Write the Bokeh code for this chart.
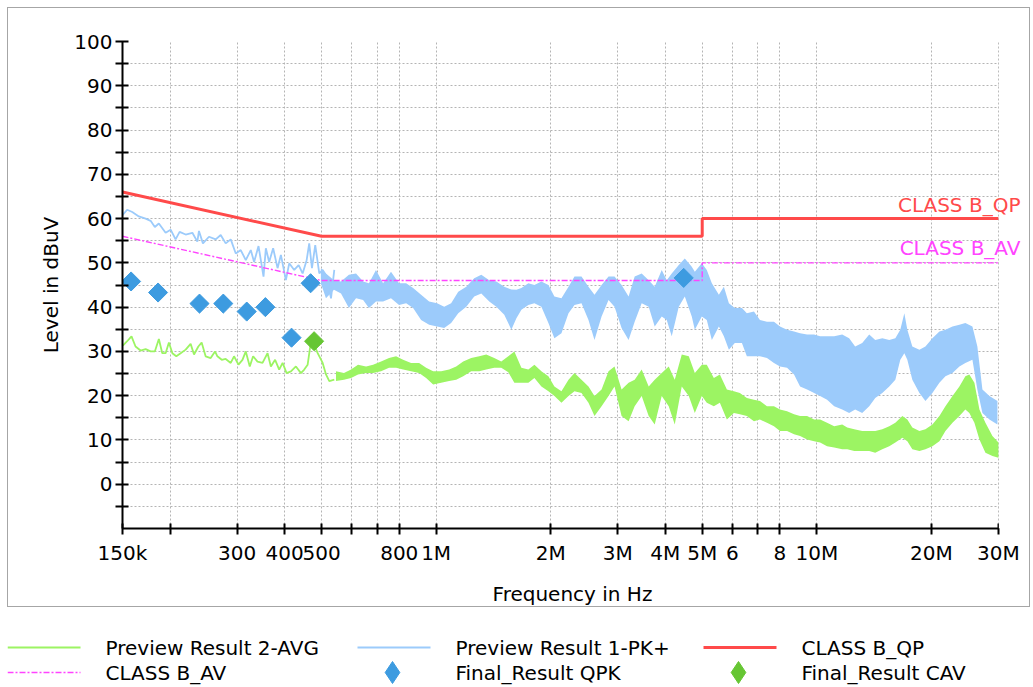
from bokeh.plotting import figure
from bokeh.models import Range1d, FixedTicker, Label, BoxAnnotation
from bokeh.embed import file_html
from bokeh.resources import INLINE
from bokeh.core.properties import value

# ---------------- data (frequency in MHz, level in dBuV) ----------------
x_ticks = [0.15, 0.2, 0.3, 0.4, 0.5, 0.6, 0.7, 0.8, 1, 2, 3, 4, 5, 6, 7, 8, 10, 20, 30]
x_tick_labels = ["150k", "", "300", "400", "500", "", "", "800", "1M", "2M", "3M", "4M",
                 "5M", "6", "", "8", "10M", "20M", "30M"]
y_ticks = [-5, 0, 5, 10, 15, 20, 25, 30, 35, 40, 45, 50, 55, 60, 65, 70, 75, 80, 85, 90, 95, 100]
y_tick_labels = ["", "0", "", "10", "", "20", "", "30", "", "40", "", "50", "", "60", "",
                 "70", "", "80", "", "90", "", "100"]

# Preview Result 1-PK+ : low-frequency trace
pk_line_f = [0.150, 0.1543, 0.1591, 0.1656, 0.1725, 0.1778, 0.1824, 0.1869, 0.1947, 0.2007,
             0.2068, 0.2119, 0.2198, 0.2289, 0.2359, 0.2382, 0.2440, 0.2531, 0.2636, 0.2717,
             0.2800, 0.2887, 0.2976, 0.3067, 0.3162, 0.3259, 0.3325, 0.3415, 0.3520, 0.3570,
             0.3642, 0.3731, 0.3832, 0.3910, 0.4030, 0.4112, 0.4238, 0.4353, 0.4459, 0.4569,
             0.4641, 0.4718, 0.4813, 0.4932, 0.5034, 0.5158, 0.5294, 0.5401]
pk_line_db = [60.8, 62.0, 61.5, 60.5, 60.0, 59.5, 58.1, 58.9, 56.8, 57.5,
              55.3, 57.0, 56.4, 56.8, 54.8, 57.2, 54.4, 55.9, 55.3, 56.3,
              54.4, 55.3, 52.1, 52.9, 50.6, 52.9, 50.2, 53.8, 46.9, 53.3,
              50.2, 53.3, 48.8, 51.8, 46.1, 49.9, 48.4, 49.5, 47.6, 50.6,
              54.4, 48.8, 54.0, 47.6, 48.4, 46.9, 42.0, 48.4]

# Preview Result 1-PK+ : dense part (upper / lower envelope)
pk_band_f = [0.498, 0.5135, 0.539, 0.5625, 0.590, 0.616, 0.643, 0.666, 0.695, 0.7255,
             0.761, 0.799, 0.834, 0.870, 0.913, 0.9585, 1.006, 1.050, 1.095, 1.143,
             1.200, 1.259, 1.314, 1.379, 1.439, 1.510, 1.576, 1.625, 1.675, 1.747,
             1.812, 1.890, 1.972, 2.045, 2.134, 2.227, 2.309, 2.409, 2.513, 2.606,
             2.720, 2.837, 2.942, 3.070, 3.203, 3.323, 3.467, 3.617, 3.751, 3.914,
             4.034, 4.158, 4.339, 4.500, 4.694, 4.781, 4.988, 5.14, 5.30, 5.53,
             5.70, 5.875, 6.09, 6.357, 6.55, 6.837, 7.09, 7.397, 7.717, 8.003,
             8.352, 8.714, 9.037, 9.429, 9.838, 10.20, 10.64, 11.11, 11.66, 12.16,
             12.61, 13.16, 13.73, 14.24, 14.86, 15.50, 16.08, 16.57, 16.98, 17.29,
             17.82, 18.60, 19.29, 20.12, 20.99, 21.77, 22.72, 23.69, 24.56, 25.63,
             26.41, 27.23, 28.41, 29.82]
pk_band_hi = [48.8, 47.6, 46.1, 45.8, 47.3, 47.6, 45.8, 45.4, 48.4, 45.4,
              48.0, 45.4, 45.4, 44.3, 42.8, 41.3, 40.9, 40.1, 40.9, 43.5,
              44.6, 46.5, 47.3, 46.1, 45.8, 44.6, 44.0, 43.9, 44.3, 45.4,
              45.0, 45.8, 45.0, 42.4, 42.0, 44.6, 46.9, 46.9, 44.6, 42.8,
              45.0, 46.9, 46.9, 45.0, 42.4, 46.9, 47.6, 46.1, 44.6, 48.4,
              46.1, 47.6, 49.5, 51.0, 49.1, 48.0, 49.9, 48.4, 45.4, 42.8,
              44.6, 40.9, 39.8, 39.8, 38.6, 39.0, 37.1, 36.7, 36.7, 35.6,
              34.9, 34.5, 34.1, 33.8, 33.8, 33.4, 33.4, 33.4, 33.8, 33.0,
              31.1, 31.9, 33.8, 32.6, 33.0, 32.6, 33.0, 34.9, 38.6, 34.9,
              31.1, 30.4, 31.1, 33.0, 34.5, 34.9, 35.6, 36.0, 36.4, 35.6,
              31.1, 21.4, 19.9, 18.8]
pk_band_lo = [45.4, 42.0, 43.9, 43.1, 39.8, 42.0, 41.6, 39.8, 41.3, 41.3,
              42.0, 40.5, 40.9, 39.8, 37.1, 36.0, 35.6, 35.3, 36.4, 38.6,
              40.1, 42.4, 43.1, 41.3, 40.1, 38.3, 34.9, 37.5, 39.4, 40.5,
              40.9, 40.1, 36.4, 33.0, 34.1, 38.6, 40.5, 40.9, 37.1, 32.6,
              37.9, 41.6, 40.1, 35.3, 32.6, 36.7, 40.9, 40.1, 35.6, 37.9,
              37.1, 33.4, 40.1, 42.4, 37.9, 34.9, 37.9, 37.1, 32.6, 35.6,
              33.4, 30.4, 31.9, 31.9, 28.9, 28.9, 28.9, 28.5, 27.4, 26.6,
              26.3, 24.8, 22.1, 21.4, 20.6, 19.9, 19.1, 17.6, 16.9, 16.1,
              16.9, 16.1, 17.6, 19.5, 20.6, 22.1, 23.6, 28.1, 29.6, 28.1,
              23.6, 20.6, 18.8, 20.6, 22.9, 24.4, 25.1, 26.6, 27.4, 28.1,
              21.4, 16.1, 14.6, 13.5]

# Preview Result 2-AVG : low-frequency trace
avg_line_f = [0.1503, 0.1543, 0.1584, 0.1623, 0.1673, 0.1725, 0.1778, 0.1824, 0.1869, 0.1908,
              0.1947, 0.1986, 0.2028, 0.2077, 0.2132, 0.2198, 0.2265, 0.2312, 0.2373, 0.2421,
              0.2480, 0.2557, 0.2625, 0.2663, 0.2734, 0.2800, 0.2887, 0.2945, 0.3025, 0.3099,
              0.3162, 0.3239, 0.3305, 0.3394, 0.3499, 0.3607, 0.3680, 0.3776, 0.3870, 0.3951,
              0.4047, 0.4155, 0.4282, 0.4414, 0.4503, 0.4597, 0.4669, 0.4784, 0.4884, 0.5034,
              0.5136, 0.5240, 0.5401]
avg_line_db = [31.3, 32.3, 33.4, 31.1, 30.2, 30.5, 30.0, 30.0, 32.8, 29.6,
               29.6, 32.0, 29.6, 28.9, 29.6, 30.4, 31.7, 29.3, 31.1, 32.0,
               28.9, 28.5, 30.0, 28.9, 28.1, 28.3, 27.4, 28.9, 27.0, 28.1,
               30.0, 26.6, 28.9, 27.7, 27.4, 29.6, 26.6, 28.1, 25.9, 27.4,
               25.1, 25.5, 26.6, 25.1, 25.9, 27.0, 31.1, 31.5, 29.6, 27.4,
               24.8, 23.3, 23.6]

# Preview Result 2-AVG : dense part (upper / lower envelope)
avg_band_f = [0.5456, 0.5727, 0.5976, 0.6234, 0.6544, 0.6828, 0.7167, 0.7521, 0.7847, 0.8187,
              0.8594, 0.9021, 0.9412, 0.9820, 1.0308, 1.0820, 1.1289, 1.1778, 1.2364, 1.2978,
              1.3541, 1.4213, 1.4829, 1.5473, 1.605, 1.6746, 1.747, 1.812, 1.890, 1.972,
              2.045, 2.134, 2.227, 2.309, 2.409, 2.513, 2.606, 2.720, 2.837, 2.942,
              3.070, 3.203, 3.323, 3.467, 3.617, 3.751, 3.914, 4.083, 4.235, 4.418,
              4.610, 4.781, 4.988, 5.14, 5.364, 5.563, 5.804, 6.056, 6.28, 6.55,
              6.837, 7.09, 7.397, 7.717, 8.003, 8.352, 8.714, 9.037, 9.429, 9.838,
              10.20, 10.64, 11.11, 11.66, 12.02, 12.54, 13.16, 13.73, 14.24, 14.86,
              15.50, 16.08, 16.78, 17.29, 17.82, 18.60, 19.29, 20.12, 20.99, 21.77,
              22.72, 23.69, 24.56, 25.16, 25.94, 26.74, 27.73, 28.93, 30.0]
avg_band_hi = [25.5, 25.1, 25.9, 27.0, 26.6, 27.0, 27.7, 28.5, 28.9, 28.1,
               27.4, 27.4, 26.3, 25.5, 25.5, 25.9, 26.6, 27.7, 28.5, 28.9,
               29.3, 28.5, 27.7, 28.9, 30.0, 26.3, 25.9, 27.0, 25.5, 24.4,
               22.1, 21.0, 23.6, 25.1, 23.6, 22.1, 19.9, 21.4, 25.5, 26.6,
               21.4, 22.9, 23.6, 25.9, 22.1, 23.6, 25.1, 26.6, 23.6, 29.3,
               28.9, 25.1, 27.0, 27.0, 24.0, 24.8, 21.4, 21.0, 20.6, 19.5,
               19.1, 18.8, 17.6, 17.6, 16.9, 16.5, 15.8, 15.4, 15.4, 14.6,
               14.6, 13.9, 13.1, 13.5, 12.8, 12.4, 12.0, 12.0, 12.0, 12.4,
               13.1, 13.9, 15.4, 14.6, 12.8, 12.0, 12.4, 13.5, 15.4, 17.6,
               19.9, 22.1, 24.4, 24.8, 22.9, 16.9, 13.9, 10.9, 9.4]
avg_band_lo = [23.3, 23.6, 24.0, 24.8, 25.1, 25.1, 25.5, 26.3, 26.3, 25.9,
               25.5, 25.1, 24.0, 22.5, 22.9, 23.3, 23.6, 24.4, 25.5, 25.5,
               25.9, 26.3, 26.3, 25.3, 22.9, 22.9, 22.9, 24.0, 22.1, 21.0,
               19.9, 18.4, 19.9, 21.0, 20.6, 18.4, 15.4, 17.6, 19.9, 22.1,
               15.4, 14.2, 17.6, 19.9, 15.4, 13.5, 19.9, 17.6, 13.5, 22.1,
               19.9, 16.1, 19.9, 18.4, 17.6, 18.4, 14.6, 16.1, 15.8, 15.4,
               14.2, 14.6, 13.9, 13.1, 12.0, 12.0, 11.3, 10.9, 10.1, 9.7,
               9.4, 8.6, 8.3, 7.9, 7.9, 7.5, 7.5, 7.5, 7.1, 7.9,
               8.6, 9.4, 10.5, 9.7, 7.9, 7.5, 7.9, 8.6, 9.7, 12.0,
               13.9, 15.4, 16.9, 16.1, 13.9, 10.1, 7.1, 6.4, 6.0]

# Limit lines
qp_f = [0.15, 0.5, 5, 5, 30]
qp_db = [66, 56, 56, 60, 60]
av_f = [0.15, 0.5, 5, 5, 30]
av_db = [56, 46, 46, 50, 50]

# Final results
qpk_f = [0.158, 0.186, 0.239, 0.276, 0.318, 0.356, 0.417, 0.468, 4.47]
qpk_db = [45.8, 43.3, 40.8, 40.8, 39.0, 40.0, 33.1, 45.4, 46.6]
cav_f = [0.478]
cav_db = [32.3]

# ---------------- style ----------------
FONT = "DejaVu Sans"
C_PK = "#9ccbfb"
C_AVG = "#9cf463"
C_QP = "#ff4a4a"
C_AV = "#ff44ff"
C_QPK = "#3d9be0"
C_CAV = "#66c633"

# x range runs a little past 30 MHz so the limit-line labels fit; axis stops at 30 MHz
p = figure(width=1023, height=600, x_axis_type="log",
           x_range=Range1d(0.15, 34.7), y_range=Range1d(-10, 100),
           output_backend="svg", toolbar_location=None,
           min_border_left=114, min_border_right=9, min_border_top=33, min_border_bottom=75,
           margin=(7, 0, 0, 7))
p.outline_line_color = None
p.background_fill_color = "white"
p.border_fill_color = "white"
p.styles = {"border": "1px solid #a6a6a6"}

# axes
p.xaxis.ticker = FixedTicker(ticks=x_ticks)
p.xaxis.major_label_overrides = {t: s for t, s in zip(x_ticks, x_tick_labels)}
p.xaxis.bounds = (x_ticks[0], x_ticks[-1])
p.yaxis.ticker = FixedTicker(ticks=y_ticks)
p.yaxis.major_label_overrides = {t: s for t, s in zip(y_ticks, y_tick_labels)}
for ax in (p.xaxis, p.yaxis):
    ax.axis_line_color = "black"
    ax.axis_line_width = 2
    ax.major_tick_line_color = "black"
    ax.major_tick_line_width = 2
    ax.minor_tick_line_color = None
    ax.major_label_text_font = FONT
    ax.major_label_text_font_size = "20px"
    ax.major_label_text_color = "black"
    ax.axis_label_text_font = FONT
    ax.axis_label_text_font_size = "20px"
    ax.axis_label_text_font_style = "normal"
    ax.axis_label_text_color = "black"
p.xaxis.major_tick_in = 5
p.xaxis.major_tick_out = 6
p.xaxis.major_label_standoff = 6
p.yaxis.major_tick_in = 6
p.yaxis.major_tick_out = 7
p.yaxis.major_label_standoff = 3
p.xaxis.axis_label = "Frequency in Hz"
p.yaxis.axis_label = "Level in dBuV"
p.xaxis.axis_label_standoff = 14
p.yaxis.axis_label_standoff = 8

for g in (p.xgrid, p.ygrid):
    g.grid_line_color = "#b4b4b4"
    g.grid_line_dash = "2 2"
    g.grid_line_width = 1

# traces
p.varea(x=avg_band_f, y1=avg_band_lo, y2=avg_band_hi, fill_color=C_AVG)
p.line(avg_line_f, avg_line_db, line_color=C_AVG, line_width=1.8)
p.varea(x=pk_band_f, y1=pk_band_lo, y2=pk_band_hi, fill_color=C_PK)
p.line(pk_line_f, pk_line_db, line_color=C_PK, line_width=1.8)
p.line(av_f, av_db, line_color=C_AV, line_width=1.4, line_dash="6 2 2 2")
p.line(qp_f, qp_db, line_color=C_QP, line_width=3)
p.scatter(qpk_f, qpk_db, marker="square", angle=0.785398, size=13.5,
          fill_color=C_QPK, line_color=C_QPK)
p.scatter(cav_f, cav_db, marker="square", angle=0.785398, size=13.5,
          fill_color=C_CAV, line_color=C_CAV)

# blank out the grid beyond 30 MHz (the label area)
p.add_layout(BoxAnnotation(left=30.08, fill_color="white", fill_alpha=1.0, line_alpha=0))

p.add_layout(Label(x=qp_f[-1], y=qp_db[-1], text="CLASS B_QP", text_align="right",
                   text_baseline="bottom", x_offset=22, y_offset=2, text_color=C_QP,
                   text_font=FONT, text_font_size="20px"))
p.add_layout(Label(x=av_f[-1], y=av_db[-1], text="CLASS B_AV", text_align="right",
                   text_baseline="bottom", x_offset=22, y_offset=3, text_color=C_AV,
                   text_font=FONT, text_font_size="20px"))

# ---------------- legend (separate strip below the chart) ----------------
lg = figure(width=1023, height=78, x_range=Range1d(0, 1023), y_range=Range1d(78, 0),
            output_backend="svg", toolbar_location=None,
            x_axis_location=None, y_axis_location=None, min_border=0,
            margin=(0, 0, 0, 7))
lg.outline_line_color = None
lg.xgrid.visible = False
lg.ygrid.visible = False

legend_names = ["Preview Result 2-AVG", "Preview Result 1-PK+", "CLASS B_QP",
                "CLASS B_AV", "Final_Result QPK", "Final_Result CAV"]
col_x = [0, 350, 696]
row_y = [40, 65]
lg.line([col_x[0], col_x[0] + 73], [row_y[0], row_y[0]], line_color=C_AVG, line_width=2)
lg.line([col_x[1], col_x[1] + 73], [row_y[0], row_y[0]], line_color=C_PK, line_width=2)
lg.line([col_x[2], col_x[2] + 73], [row_y[0], row_y[0]], line_color=C_QP, line_width=3)
lg.line([col_x[0], col_x[0] + 73], [row_y[1], row_y[1]], line_color=C_AV, line_width=1.4,
        line_dash="6 2 2 2")
lg.scatter([col_x[1] + 35], [row_y[1]], marker="diamond", size=22,
           fill_color=C_QPK, line_color=C_QPK)
lg.scatter([col_x[2] + 35], [row_y[1]], marker="diamond", size=22,
           fill_color=C_CAV, line_color=C_CAV)
lg.text(x=[c + 98 for c in col_x] * 2, y=[row_y[0]] * 3 + [row_y[1]] * 3, text=legend_names,
        text_font=value(FONT), text_font_size="20px", text_color="black",
        text_baseline="middle", text_align="left")

open("out.html", "w").write(file_html([p, lg], INLINE))
